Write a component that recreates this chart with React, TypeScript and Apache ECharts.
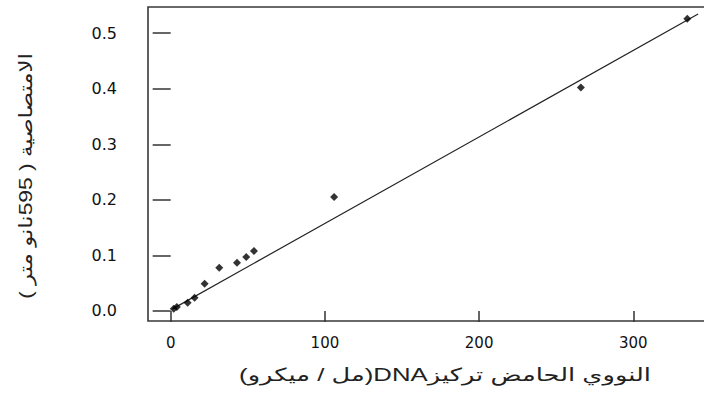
import React, { useEffect, useRef } from "react";
import * as echarts from "echarts";

// Measured concentrations (µg/ml) and absorbances (595 nm)
const concentrations = [2, 4, 11, 15.5, 22, 31.5, 43, 49, 54, 106, 266, 335];
const absorbances = [0.004, 0.007, 0.015, 0.024, 0.049, 0.078, 0.087, 0.097, 0.108, 0.205, 0.402, 0.526];

// Fitted calibration line end points
const fitX = [1, 342];
const fitY = [0.0034, 0.5343];

const xTicks = [0, 100, 200, 300];
const yTicks = [0, 0.1, 0.2, 0.3, 0.4, 0.5];

// x-axis title, written as separate runs laid out left to right
const xTitleParts = ["(", "ميكرو", " / ", "مل", ")DNA", "تركيز", " ", "الحامض", " ", "النووي"];
const yTitle = "الامتصاصية ( 595نانو متر )";

export default function App() {
  const ref = useRef<HTMLDivElement>(null);

  useEffect(() => {
    if (!ref.current) return;
    const chart = echarts.init(ref.current, null, { renderer: "svg" });
    const labelFont = "'DejaVu Sans', sans-serif";
    const titleFont = "'Liberation Sans', 'DejaVu Sans', sans-serif";
    const xTitleRich = xTitleParts.map((p) => `{w|${p}}`).join("");
    chart.setOption({
      animation: false,
      backgroundColor: "#ffffff",
      grid: {
        left: 148,
        top: 7,
        height: 314,
        width: 566,
        show: true,
        borderColor: "#383838",
        borderWidth: 1.6,
        backgroundColor: "transparent",
        outerBoundsMode: "none",
      },
      xAxis: {
        type: "value",
        min: -14.7,
        max: 352.3,
        axisLine: { show: false },
        splitLine: { show: false },
        axisTick: {
          show: true,
          length: 11,
          customValues: xTicks,
          lineStyle: { color: "#333", width: 1.5 },
        },
        axisLabel: {
          customValues: xTicks,
          margin: 14,
          color: "#111",
          fontSize: 15,
          fontFamily: labelFont,
        },
      },
      yAxis: {
        type: "value",
        min: -0.018,
        max: 0.547,
        axisLine: { show: false },
        splitLine: { show: false },
        axisTick: {
          show: true,
          length: 18,
          customValues: yTicks,
          lineStyle: { color: "#333", width: 1.5 },
        },
        axisLabel: {
          customValues: yTicks,
          margin: 31,
          color: "#111",
          fontSize: 16,
          fontFamily: labelFont,
          formatter: (v: number) => v.toFixed(1),
        },
      },
      graphic: [
        {
          type: "text",
          x: 445,
          y: 375,
          scaleX: 1.43,
          style: {
            text: xTitleRich,
            fill: "#222",
            textAlign: "center",
            textVerticalAlign: "middle",
            rich: {
              w: { fontSize: 18, fontFamily: titleFont, fill: "#222" },
            },
          },
        },
        {
          type: "text",
          x: 25,
          y: 176,
          rotation: Math.PI / 2,
          scaleX: 1.27,
          style: {
            text: yTitle,
            font: `18px ${titleFont}`,
            fill: "#222",
            textAlign: "center",
            textVerticalAlign: "middle",
          },
        },
      ],
      series: [
        {
          type: "line",
          data: fitX.map((x, i) => [x, fitY[i]]),
          symbol: "none",
          lineStyle: { color: "#222", width: 1.2 },
          silent: true,
          z: 2,
        },
        {
          type: "scatter",
          data: concentrations.map((x, i) => [x, absorbances[i]]),
          symbol: "diamond",
          symbolSize: 8,
          itemStyle: { color: "#000" },
          z: 3,
        },
      ],
    });
    return () => chart.dispose();
  }, []);

  return (
    <div
      ref={ref}
      style={{ position: "absolute", left: 0, top: 0, width: 704, height: 408 }}
    />
  );
}
